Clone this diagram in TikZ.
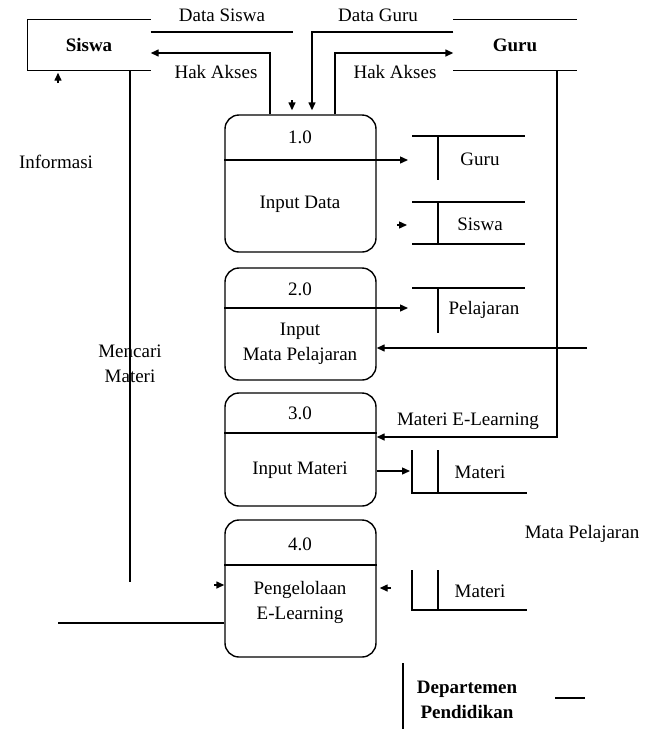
\documentclass[tikz,border=0pt]{standalone}
\usepackage{fontspec}
\setmainfont{Liberation Serif}
\usepackage{tikz}
\usetikzlibrary{arrows.meta, positioning}
\newcommand{\dfdfont}{\fontsize{19}{25}\selectfont}
\tikzset{
  ent/.style={minimum width=122pt, minimum height=50pt, inner sep=0pt,
              font=\dfdfont\bfseries},
  proc/.style={draw, rounded corners=14pt, minimum width=151pt, inner sep=0pt},
  lbl/.style={inner sep=0pt, align=center, font=\dfdfont},
  arr/.style={-{Triangle[length=8pt, width=7pt]}},
}

\begin{document}
\begin{tikzpicture}[x=1pt, y=-1pt, line width=1.4pt]
  \useasboundingbox (0,0) rectangle (647,729);

  % ─── External entities ─────────────────────────────────────────────
  \node[ent] (siswa) at (89,45) {Siswa};
  \draw (siswa.north east) -- (siswa.north west) -- (siswa.south west) -- (siswa.south east);

  \node[ent] (guru) at (515,45) {Guru};
  \draw (guru.north west) -- (guru.north east);
  \draw (guru.south west) -- (guru.south east);

  \node[lbl, font=\dfdfont\bfseries] (dep) at (467,700) {Departemen\\Pendidikan};
  \draw (403,663) -- (403,729);
  \draw (555,698) -- (585,698);

  % ─── Processes ─────────────────────────────────────────────────────
  \node[proc, minimum height=137pt] (p1) at (300.5,183.5) {};
  \node[proc, minimum height=112pt] (p2) at (300.5,324) {};
  \node[proc, minimum height=113pt] (p3) at (300.5,449.5) {};
  \node[proc, minimum height=137pt] (p4) at (300.5,588.5) {};

  \node[lbl] (n1) at (300,137) {1.0};
  \node[lbl] (t1) at (300,204) {Input Data};
  \node[lbl] (n2) at (300,289) {2.0};
  \node[lbl] (t2) at (300,344) {Input\\Mata Pelajaran};
  \node[lbl] (n3) at (300,413) {3.0};
  \node[lbl] (t3) at (300,470) {Input Materi};
  \node[lbl] (n4) at (300,544) {4.0};
  \node[lbl] (t4) at (300,602) {Pengelolaan\\E-Learning};

  \draw (p3.west |- 0,433) -- (p3.east |- 0,433);
  \draw (p4.west |- 0,565) -- (p4.east |- 0,565);

  % ─── Data stores ───────────────────────────────────────────────────
  \node[lbl] (sGuru) at (480,159) {Guru};
  \draw (412,136) -- (525,136);
  \draw (438,136) -- (438,180);

  \node[lbl] (sSiswa) at (480,224) {Siswa};
  \draw (412,202) -- (525,202);
  \draw (412,244) -- (525,244);
  \draw (438,202) -- (438,244);

  \node[lbl] (sPel) at (484,310) {Pelajaran};
  \draw (412,288) -- (525,288);
  \draw (438,288) -- (438,333);

  \node[lbl] (sMat1) at (480,472) {Materi};
  \draw (412,450) -- (412,493) -- (527,493);
  \draw (438,450) -- (438,493);

  \node[lbl] (sMat2) at (480,591) {Materi};
  \draw (412,570) -- (412,610) -- (527,610);
  \draw (438,570) -- (438,610);

  % ─── Flows ─────────────────────────────────────────────────────────
  \coordinate (dsEnd) at (293,32);
  \draw (siswa.east |- dsEnd) -- (dsEnd);
  \node[lbl] (lDs) at (222,15) {Data Siswa};
  \coordinate (dsTip) at (292,100);
  \draw[arr, shorten >=4pt] (dsTip) -- (dsTip |- p1.north);

  \draw[arr, shorten >=4pt] (guru.west |- 0,32) -| (p1.north -| 312,0);
  \node[lbl] (lDg) at (378,15) {Data Guru};

  \draw[arr] (p1.north -| 270,0) |- (siswa.east |- 0,53);
  \node[lbl] (lHs) at (216,72) {Hak Akses};
  \draw[arr] (p1.north -| 335,0) |- (guru.west |- 0,53);
  \node[lbl] (lHg) at (395,72) {Hak Akses};

  \draw[arr] (p1.west |- 0,160) -- (408,160);
  \coordinate (ssTip) at (397,225);
  \draw[arr] (ssTip) -- ++(10,0);
  \draw[arr] (p2.west |- 0,308) -- (408,308);

  \coordinate (mpSrc) at (587,348);
  \draw[arr] (mpSrc) -- (p2.east |- mpSrc);
  \node[lbl] (lMp) at (582,534) {Mata Pelajaran};

  \draw[arr] (guru.south -| 557,0) |- (p3.east |- 0,437);
  \node[lbl] (lMe) at (468,421) {Materi E-Learning};
  \draw[arr] (p3.east |- 0,471) -- (410,471);

  \coordinate (m2Tip) at (391,588);
  \draw[arr, shorten >=3pt] (m2Tip) -- (p4.east |- m2Tip);

  \coordinate (mmEnd) at (130,582);
  \draw (siswa.south -| mmEnd) -- (mmEnd);
  \node[lbl] (lMm) at (130,364) {Mencari\\Materi};
  \coordinate (mmTip) at (214,585);
  \draw[arr] (mmTip) -- (p4.west |- mmTip);

  \coordinate (infEnd) at (58,623);
  \draw (p4.west |- infEnd) -- (infEnd);
  \coordinate (infTip) at (58,83);
  \draw[arr, shorten >=2pt] (infTip) -- (siswa.south -| infTip);
  \node[lbl] (lInf) at (56,162) {Informasi};

\end{tikzpicture}
\end{document}
